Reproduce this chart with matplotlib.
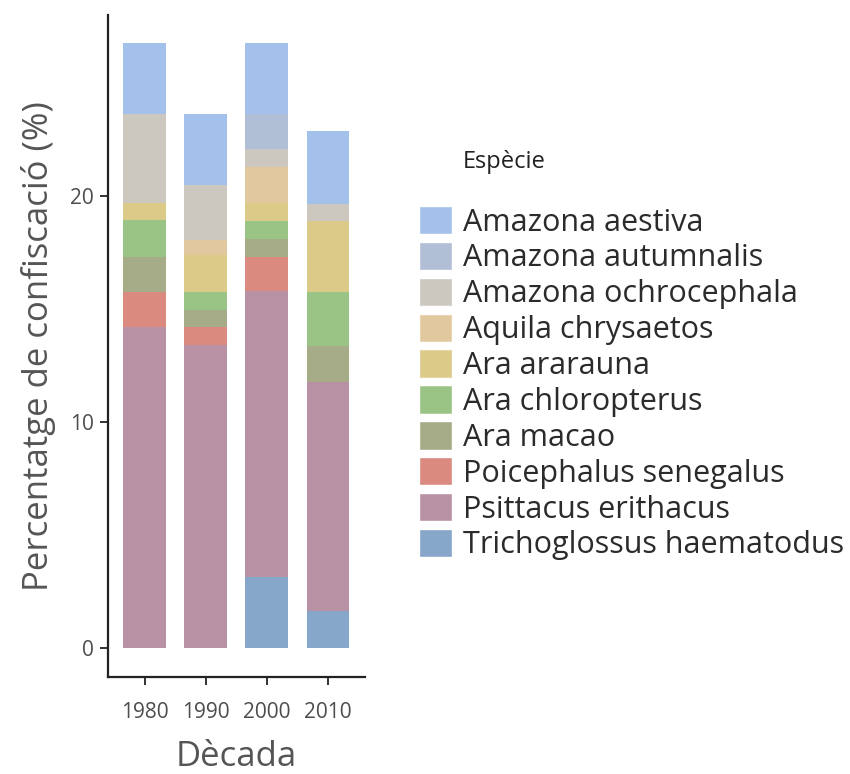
import matplotlib.pyplot as plt
from matplotlib.patches import Patch
import numpy as np

plt.rcParams['font.family'] = ['Open Sans', 'DejaVu Sans']

decades = ['1980', '1990', '2000', '2010']
species = ['Amazona aestiva', 'Amazona autumnalis', 'Amazona ochrocephala',
           'Aquila chrysaetos', 'Ara ararauna', 'Ara chloropterus', 'Ara macao',
           'Poicephalus senegalus', 'Psittacus erithacus', 'Trichoglossus haematodus']
colors = ['#a3c1eb', '#b0bed6', '#ccc7bf', '#e2c89e', '#dcca88',
          '#9ac486', '#a6ac88', '#db8a80', '#b892a4', '#86a6ca']

# percent per species, one value per decade (1980, 1990, 2000, 2010)
amazona_aestiva = [3.13, 3.13, 3.10, 3.23]
amazona_autumnalis = [0.0, 0.0, 1.55, 0.0]
amazona_ochrocephala = [3.95, 2.41, 0.81, 0.74]
aquila_chrysaetos = [0.0, 0.69, 1.62, 0.0]
ara_ararauna = [0.74, 1.62, 0.77, 3.14]
ara_chloropterus = [1.63, 0.81, 0.81, 2.41]
ara_macao = [1.54, 0.74, 0.79, 1.58]
poicephalus_senegalus = [1.55, 0.81, 1.51, 0.0]
psittacus_erithacus = [14.22, 13.41, 12.65, 10.14]
trichoglossus_haematodus = [0.0, 0.0, 3.15, 1.64]

values = [amazona_aestiva, amazona_autumnalis, amazona_ochrocephala,
          aquila_chrysaetos, ara_ararauna, ara_chloropterus, ara_macao,
          poicephalus_senegalus, psittacus_erithacus, trichoglossus_haematodus]

fig = plt.figure(figsize=(8.5, 7.74), dpi=100)
ax = fig.add_axes([0.127, 0.125, 0.302, 0.855])

x = np.arange(len(decades))
bottom = np.zeros(len(decades))
for name, vals, col in reversed(list(zip(species, values, colors))):
    ax.bar(x, vals, width=0.7, bottom=bottom, color=col, linewidth=0)
    bottom += np.array(vals)

ax.set_xlim(-0.6, 3.6)
ax.set_ylim(-1.3, 28.0)
ax.set_xticks(x)
ax.set_xticklabels(decades)
ax.set_yticks([0, 10, 20])
for s in ['top', 'right']:
    ax.spines[s].set_visible(False)
for s in ['left', 'bottom']:
    ax.spines[s].set_linewidth(1.6)
    ax.spines[s].set_color('#222222')
ax.tick_params(length=6, width=1.4, color='#333333', labelsize=15,
               labelcolor='#4d4d4d')
ax.tick_params(axis='x', pad=12)
ax.tick_params(axis='y', pad=4)
ax.set_xlabel('Dècada', fontsize=25, color='#555555', labelpad=12)
ax.set_ylabel('Percentatge de confiscació (%)', fontsize=25, color='#555555', labelpad=10)

fig.text(463 / 850, 1 - 162 / 774, 'Espècie', fontsize=17, color='#222222',
         ha='left', va='center')

handles = [Patch(facecolor=c, edgecolor='white', linewidth=1) for c in colors]
leg = fig.legend(handles, species, loc='upper left', bbox_to_anchor=(419 / 850, 1 - 206 / 774),
                 frameon=False, fontsize=22, handlelength=1.08, handleheight=1.05,
                 handletextpad=0.36, labelspacing=0.14, borderpad=0, borderaxespad=0)
for t in leg.get_texts():
    t.set_color('#2b2b2b')

fig.savefig('out.png', dpi=100)
